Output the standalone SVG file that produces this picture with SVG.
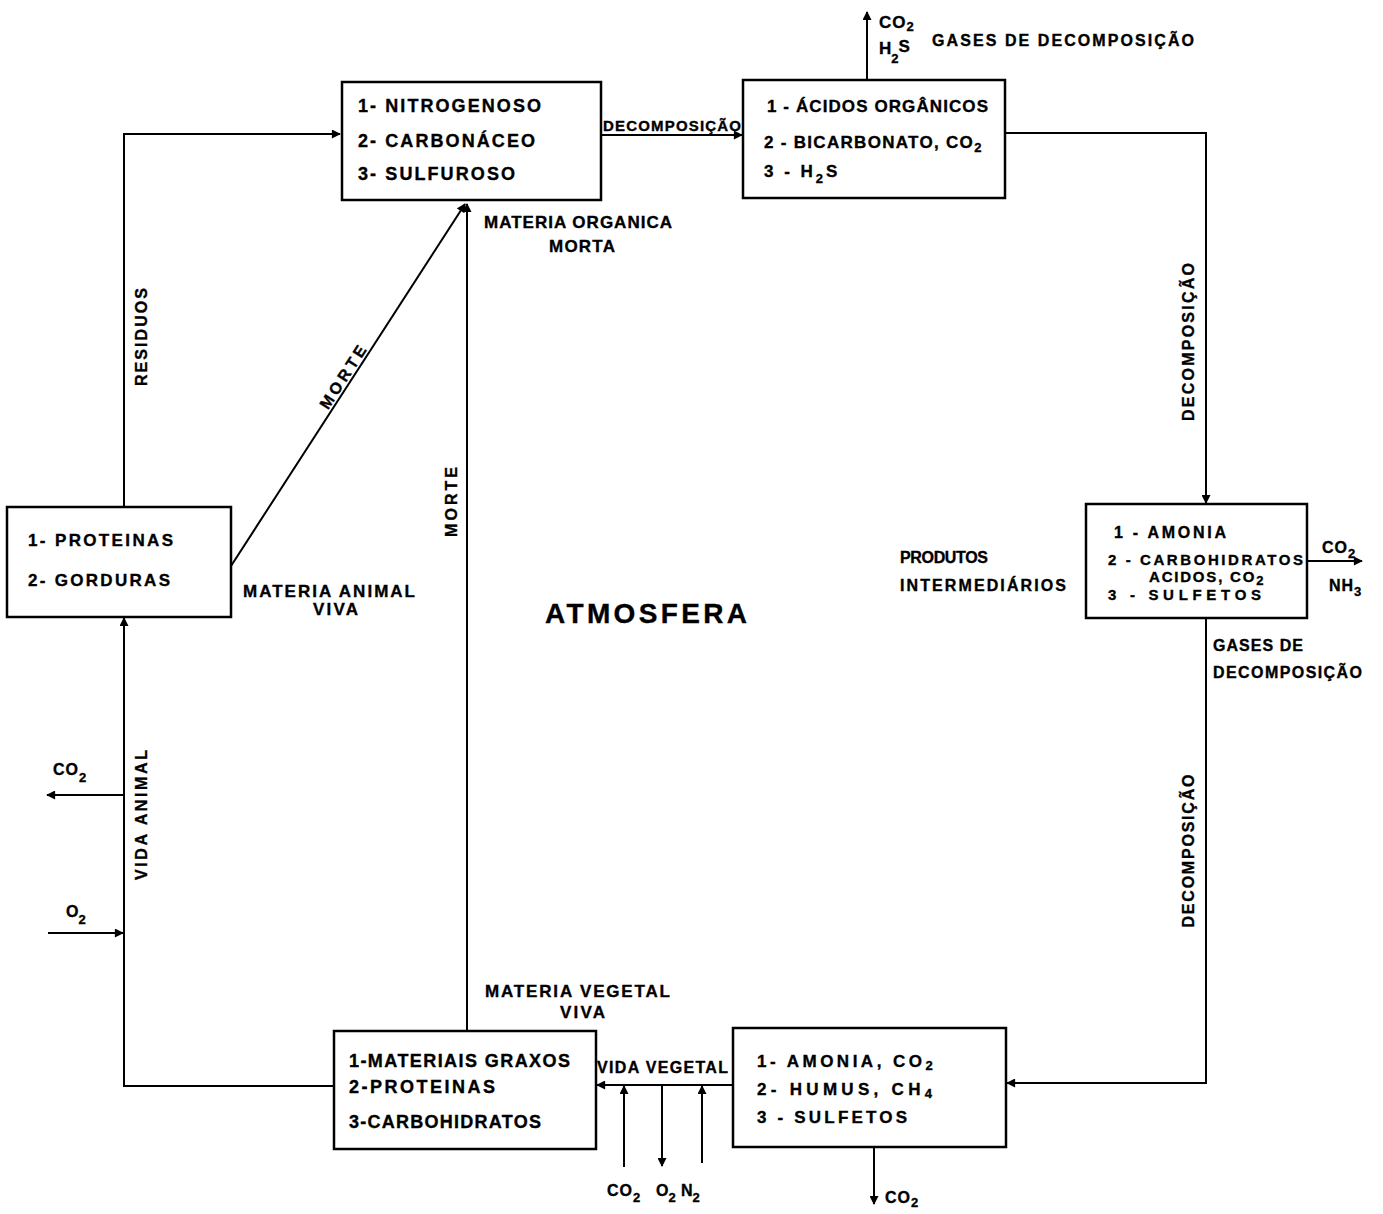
<svg xmlns="http://www.w3.org/2000/svg" width="1383" height="1214" viewBox="0 0 1383 1214">
<style>
text{font-family:"Liberation Sans",Arial,sans-serif;font-weight:bold;fill:#000;stroke:#000;stroke-width:0.35}
.f18{font-size:18px}.f17{font-size:17px}.f16{font-size:16px}.f15{font-size:15px}
.box{fill:#fff;stroke:#000;stroke-width:2.5}
.c{fill:none;stroke:#000;stroke-width:2}
.sub{font-size:13px}
.ls{letter-spacing:1px}
</style>
<defs>
<marker id="ah" viewBox="0 0 10 10" refX="9" refY="5" markerWidth="11" markerHeight="9" markerUnits="userSpaceOnUse" orient="auto"><path d="M0,0 L10,5 L0,10 z" fill="#000"/></marker>
</defs>
<rect width="1383" height="1214" fill="#fff"/>
<g id="connectors">
<path class="c" d="M124,507 V134 H340" marker-end="url(#ah)"/>
<path class="c" d="M231,566 L465,204" marker-end="url(#ah)"/>
<path class="c" d="M467,1031 V204" marker-end="url(#ah)"/>
<path class="c" d="M601,135 H742" marker-end="url(#ah)"/>
<path class="c" d="M867,80 V12" marker-end="url(#ah)"/>
<path class="c" d="M1005,133 H1206 V503" marker-end="url(#ah)"/>
<path class="c" d="M1307,561 H1362" marker-end="url(#ah)"/>
<path class="c" d="M1206,618 V1083 H1007" marker-end="url(#ah)"/>
<path class="c" d="M874,1147 V1204" marker-end="url(#ah)"/>
<path class="c" d="M733,1085 H597" marker-end="url(#ah)"/>
<path class="c" d="M624,1167 V1086" marker-end="url(#ah)"/>
<path class="c" d="M662,1085 V1166" marker-end="url(#ah)"/>
<path class="c" d="M702,1163 V1086" marker-end="url(#ah)"/>
<path class="c" d="M334,1086 H124 V618" marker-end="url(#ah)"/>
<path class="c" d="M124,795 H47" marker-end="url(#ah)"/>
<path class="c" d="M48,933 H123" marker-end="url(#ah)"/>
<text class="f16" transform="translate(141,337) rotate(-90)" x="0" y="6" text-anchor="middle" textLength="98">RESIDUOS</text>
<text class="f16" transform="translate(350,382) rotate(-57)" x="0" y="-3" text-anchor="middle" textLength="72">MORTE</text>
<text class="f16" transform="translate(451,502) rotate(-90)" x="0" y="6" text-anchor="middle" textLength="70">MORTE</text>
<text class="f15" x="603" y="131" textLength="138">DECOMPOSIÇÃO</text>
<text class="f16" transform="translate(1188,342) rotate(-90)" x="0" y="6" text-anchor="middle" textLength="158">DECOMPOSIÇÃO</text>
<text class="f16" transform="translate(1188,851) rotate(-90)" x="0" y="6" text-anchor="middle" textLength="153">DECOMPOSIÇÃO</text>
<text class="f16" transform="translate(141,815) rotate(-90)" x="0" y="6" text-anchor="middle" textLength="130">VIDA ANIMAL</text>
<text class="f16" x="597" y="1073" textLength="131">VIDA VEGETAL</text>
<text class="f17 ls" x="879" y="28">CO<tspan class="sub" dy="3">2</tspan></text>
<text class="f17" x="879" y="54">H<tspan class="sub" dy="9">2</tspan><tspan dy="-11">S</tspan></text>
<text class="f16" x="932" y="46" textLength="262">GASES DE DECOMPOSIÇÃO</text>
<text class="f16 ls" x="1322" y="553">CO<tspan class="sub" dy="5">2</tspan></text>
<text class="f16 ls" x="1329" y="591">NH<tspan class="sub" dy="5">3</tspan></text>
<text class="f16" x="1213" y="651" textLength="90">GASES DE</text>
<text class="f16" x="1213" y="678" textLength="149">DECOMPOSIÇÃO</text>
<text class="f16 ls" x="885" y="1203">CO<tspan class="sub" dy="4">2</tspan></text>
<text class="f16 ls" x="607" y="1196">CO<tspan class="sub" dy="6">2</tspan></text>
<text class="f16" x="656" y="1196">O<tspan class="sub" dy="6">2</tspan></text>
<text class="f16" x="681" y="1196">N<tspan class="sub" dy="6">2</tspan></text>
<text class="f16 ls" x="53" y="775">CO<tspan class="sub" dy="7">2</tspan></text>
<text class="f16" x="66" y="917">O<tspan class="sub" dy="7">2</tspan></text>
</g>
<g id="node-organica-morta">
<rect class="box" x="342" y="82" width="259" height="118"/>
<text class="f18" x="358" y="112" textLength="183">1- NITROGENOSO</text>
<text class="f18" x="358" y="147" textLength="177">2- CARBONÁCEO</text>
<text class="f18" x="358" y="180" textLength="157">3- SULFUROSO</text>
<text class="f17" x="484" y="228" textLength="188">MATERIA ORGANICA</text>
<text class="f17" x="549" y="252" textLength="66">MORTA</text>
</g>
<g id="node-acidos">
<rect class="box" x="743" y="80" width="262" height="118"/>
<text class="f17" x="767" y="112" textLength="221">1 - ÁCIDOS ORGÂNICOS</text>
<text class="f17" x="764" y="148" style="letter-spacing:1.3px">2 - BICARBONATO, CO<tspan class="sub" dy="4">2</tspan></text>
<text class="f17" x="764" y="177" style="letter-spacing:3px">3 - H<tspan class="sub" dy="6">2</tspan><tspan dy="-6">S</tspan></text>
</g>
<g id="node-intermediarios">
<rect class="box" x="1086" y="504" width="221" height="114"/>
<text class="f16" x="1114" y="538" textLength="112">1 - AMONIA</text>
<text class="f15" x="1108" y="565" textLength="195">2 - CARBOHIDRATOS</text>
<text class="f15" x="1149" y="582" style="letter-spacing:1.8px">ACIDOS, CO<tspan class="sub" dy="3">2</tspan></text>
<text class="f15" x="1108" y="600" textLength="153">3 - SULFETOS</text>
<text class="f16" x="900" y="563" textLength="88">PRODUTOS</text>
<text class="f16" x="900" y="591" textLength="166">INTERMEDIÁRIOS</text>
</g>
<g id="node-humus">
<rect class="box" x="733" y="1028" width="273" height="119"/>
<text class="f17" x="757" y="1067" style="letter-spacing:3.5px">1- AMONIA, CO<tspan class="sub" dy="3">2</tspan></text>
<text class="f17" x="757" y="1095" style="letter-spacing:4.3px">2- HUMUS, CH<tspan class="sub" dy="3">4</tspan></text>
<text class="f17" x="757" y="1123" textLength="150">3 - SULFETOS</text>
</g>
<g id="node-vegetal">
<rect class="box" x="334" y="1031" width="262" height="118"/>
<text class="f18" x="349" y="1067" textLength="221">1-MATERIAIS GRAXOS</text>
<text class="f18" x="349" y="1093" textLength="146">2-PROTEINAS</text>
<text class="f18" x="349" y="1128" textLength="192">3-CARBOHIDRATOS</text>
<text class="f17" x="485" y="997" textLength="185">MATERIA VEGETAL</text>
<text class="f17" x="560" y="1018" textLength="45">VIVA</text>
</g>
<g id="node-animal">
<rect class="box" x="7" y="507" width="224" height="110"/>
<text class="f17" x="28" y="546" textLength="145">1- PROTEINAS</text>
<text class="f17" x="28" y="586" textLength="142">2- GORDURAS</text>
<text class="f17" x="243" y="597" textLength="172">MATERIA ANIMAL</text>
<text class="f17" x="313" y="615" textLength="45">VIVA</text>
</g>
<g id="atmosfera">
<text x="545" y="623" style="font-size:28px" textLength="202">ATMOSFERA</text>
</g>
</svg>
